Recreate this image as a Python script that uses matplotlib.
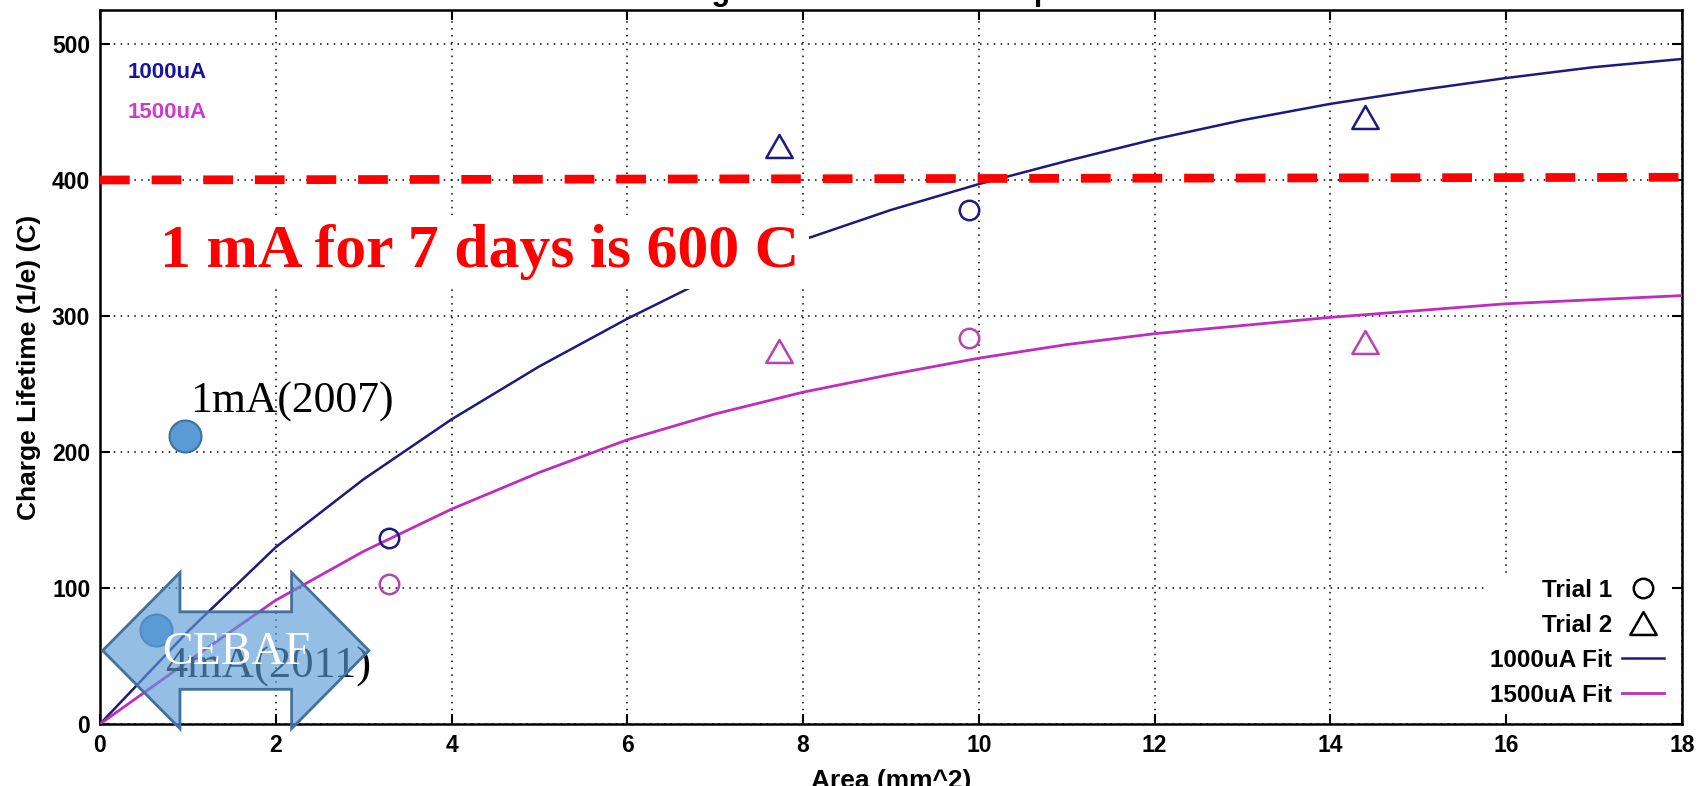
import matplotlib
matplotlib.use("Agg")
import matplotlib.pyplot as plt
from matplotlib.lines import Line2D
from matplotlib.patches import Polygon
from matplotlib.path import Path

# Measured charge lifetimes (C) versus laser spot area (mm^2)
area_trial1 = [3.29, 9.89]
area_trial2 = [7.73, 14.39]
life_1000_trial1 = [136.7, 377.8]
life_1000_trial2 = [424.8, 446.1]
life_1500_trial1 = [103.0, 283.6]
life_1500_trial2 = [274.2, 280.6]

# Fitted curves sampled along the area axis
fit_area = [0, 1, 2, 3, 4, 5, 6, 7, 8, 9, 10, 11, 12, 13, 14, 15, 16, 17, 18]
fit_1000 = [0, 68, 130, 180, 224, 263, 298, 330, 356, 378, 397, 414, 430, 444, 456, 466, 475, 483, 489]
fit_1500 = [0, 46, 91, 127, 158, 185, 209, 228, 244, 257, 269, 279, 287, 293, 299, 304, 309, 312, 315]

# Earlier running conditions
ref_labels = ["1mA(2007)", "4mA(2011)"]
ref_area = [0.97, 0.64]
ref_life = [212, 69]

# Required lifetime line
target_area = [0, 18]
target_life = [400, 402]

x_ticks = [0, 2, 4, 6, 8, 10, 12, 14, 16, 18]
y_ticks = [0, 100, 200, 300, 400, 500]
legend_labels = ["Trial 1", "Trial 2", "1000uA Fit", "1500uA Fit"]

NAVY = "#1b1b7e"
NAVY_TXT = "#16169a"
MAG = "#c02cc0"
MAG_MK = "#b444b4"
MAG_TXT = "#cc3ccc"
BLUE = "#5B9BD5"
BLUE_EDGE = "#41719C"
SERIF = ["Liberation Serif", "DejaVu Serif"]

plt.rcParams["font.family"] = ["Liberation Sans", "DejaVu Sans"]

fig = plt.figure(figsize=(17.05, 7.86), dpi=100, facecolor="white")
ax = fig.add_axes([100 / 1705, 62 / 786, 1582 / 1705, 714 / 786])

# open triangle marker, slightly wider than tall
tri = Path([(0, 1), (-1.15, -1), (1.15, -1), (0, 1)],
           [Path.MOVETO, Path.LINETO, Path.LINETO, Path.CLOSEPOLY])

ax.plot(fit_area, fit_1000, color=NAVY, lw=1.8, zorder=3)
ax.plot(fit_area, fit_1500, color=MAG, lw=2.0, zorder=3)

ax.plot(area_trial1, life_1000_trial1, ls="none", marker="o", ms=14, mfc="none",
        mec=NAVY, mew=1.8, zorder=4)
ax.plot(area_trial2, life_1000_trial2, ls="none", marker=tri, ms=19, mfc="none",
        mec=NAVY, mew=1.8, zorder=4)
ax.plot(area_trial1, life_1500_trial1, ls="none", marker="o", ms=14, mfc="none",
        mec=MAG_MK, mew=1.8, zorder=4)
ax.plot(area_trial2, life_1500_trial2, ls="none", marker=tri, ms=19, mfc="none",
        mec=MAG_MK, mew=1.8, zorder=4)

# requirement line and note
ax.plot(target_area, target_life, color="#ff0000", lw=6.3, dashes=(3.4, 2.5),
        solid_capstyle="butt", dash_capstyle="butt", zorder=6)
ax.text(0.685, 336.0, "1 mA for 7 days is 600 C", color="#ff0000",
        fontsize=44.5, fontweight="bold", family=SERIF,
        ha="left", va="baseline", zorder=7,
        bbox=dict(boxstyle="square,pad=0.15", facecolor="white", edgecolor="none"))

# reference dots
ax.plot(ref_area, ref_life, ls="none", marker="o", ms=23, mfc=BLUE, mec=BLUE_EDGE,
        mew=1.5, zorder=8)
ax.text(1.02, 229.4, ref_labels[0], fontsize=31.5, family=SERIF,
        ha="left", va="baseline", color="black", zorder=8)
ax.text(0.74, 34.0, ref_labels[1], fontsize=32, family=SERIF,
        ha="left", va="baseline", color="black", zorder=8)

# CEBAF double arrow
x0, x1, head, cy, half_shaft, half_head = 0.03, 3.06, 0.88, 54.0, 28.5, 57.4
verts = [(x0, cy), (x0 + head, cy + half_head), (x0 + head, cy + half_shaft),
         (x1 - head, cy + half_shaft), (x1 - head, cy + half_head), (x1, cy),
         (x1 - head, cy - half_head), (x1 - head, cy - half_shaft),
         (x0 + head, cy - half_shaft), (x0 + head, cy - half_head)]
arrow = Polygon(verts, closed=True, facecolor=(0x5B / 255, 0x9B / 255, 0xD5 / 255, 0.65),
                edgecolor=BLUE_EDGE, lw=2.0, clip_on=False, zorder=9)
ax.add_patch(arrow)
ax.text(1.55, 44.0, "CEBAF", fontsize=33, family=SERIF,
        ha="center", va="baseline", color="white", zorder=10)

# series names
ax.text(0.31, 479, "1000uA", color=NAVY_TXT, fontsize=16, fontweight="bold",
        ha="left", va="center", zorder=5)
ax.text(0.31, 450, "1500uA", color=MAG_TXT, fontsize=16, fontweight="bold",
        ha="left", va="center", zorder=5)

ax.set_xlim(0, 18)
ax.set_ylim(0, 525)
ax.set_xticks(x_ticks)
ax.set_yticks(y_ticks)
ax.set_xticklabels([str(v) for v in x_ticks])
ax.set_yticklabels([str(v) for v in y_ticks])
ax.tick_params(direction="in", length=7, width=1.5, top=True, right=True,
               labelsize=16.5, pad=7, color="black")
for lbl in ax.get_xticklabels() + ax.get_yticklabels():
    lbl.set_fontweight("bold")
for sp in ax.spines.values():
    sp.set_linewidth(1.8)
    sp.set_color("black")

ax.set_axisbelow(True)
ax.grid(True, linestyle=(0, (1, 3.5)), color="black", linewidth=1.1)

ax.set_xlabel("Area (mm^2)", fontsize=19, fontweight="bold", labelpad=9)
ax.set_ylabel("Charge Lifetime (1/e) (C)", fontsize=19, fontweight="bold", labelpad=8)

fig.text(896 / 1705, 1.0, "Charge Lifetime vs Laser Spot Size", fontsize=22,
         fontweight="bold", ha="center", va="baseline")

handles = [
    Line2D([], [], ls="none", marker="o", ms=14, mfc="none", mec="black", mew=1.8),
    Line2D([], [], ls="none", marker=tri, ms=19, mfc="none", mec="black", mew=1.8),
    Line2D([], [], color=NAVY, lw=1.8),
    Line2D([], [], color=MAG, lw=2.0),
]
leg = ax.legend(handles, legend_labels, loc="lower right", bbox_to_anchor=(0.992, 0.017),
                markerfirst=False, frameon=True, facecolor="white", edgecolor="none",
                framealpha=1, fancybox=False, prop={"weight": "bold", "size": 17.5},
                handlelength=1.75, handletextpad=0.4, labelspacing=0.5,
                borderpad=0.2, borderaxespad=0)
leg.set_zorder(11)

fig.savefig("out.png", dpi=100, facecolor="white")
